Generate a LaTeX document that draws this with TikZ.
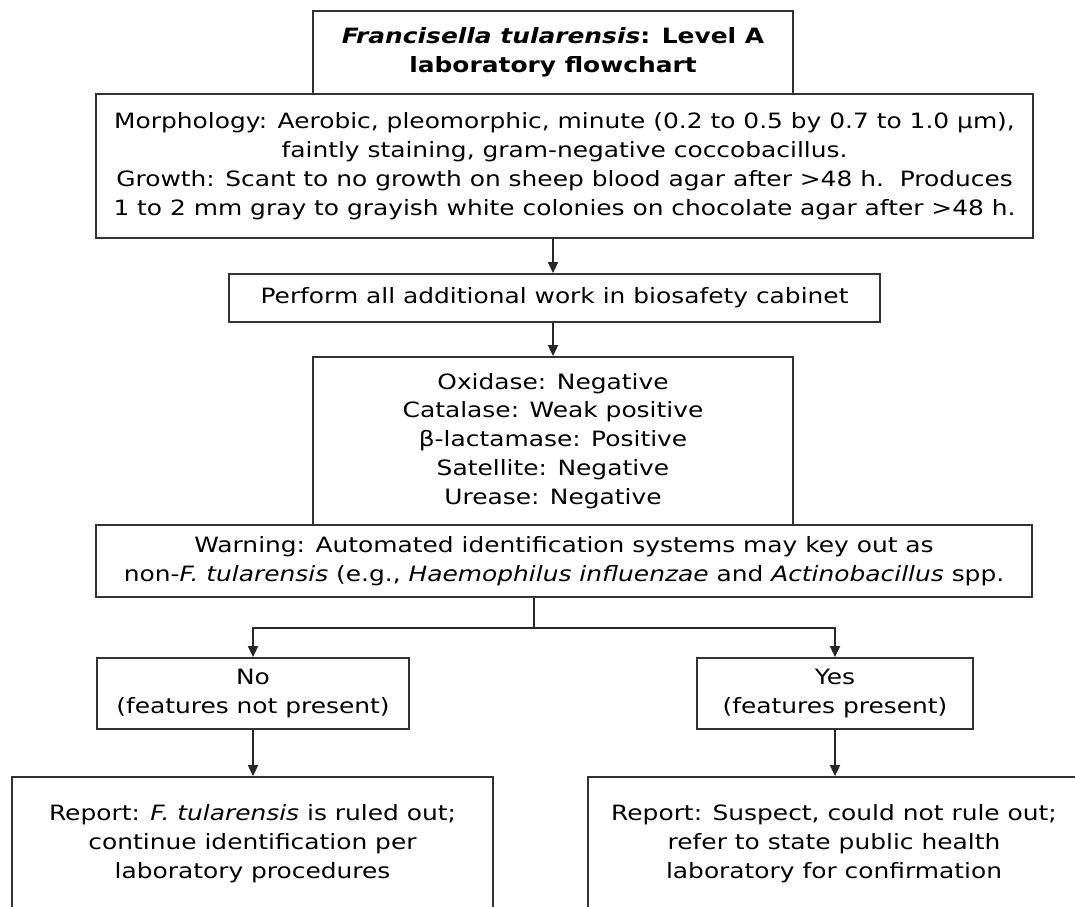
\documentclass[tikz,border=0pt]{standalone}
\usepackage{fontspec}
\setmainfont{DejaVu Sans}[FakeStretch=1.18]
\usetikzlibrary{arrows.meta}

\tikzset{
  box/.style={draw=black!80, line width=1pt, align=center, inner sep=2pt,
    font=\fontsize{12pt}{16.4pt}\selectfont},
  arr/.style={draw=black!85, line width=1pt, -{Triangle[length=0.22cm,width=0.2cm]}}
}

\begin{document}
\begin{tikzpicture}
			%%%%% START %%%%%
			
			\useasboundingbox (0, 0) rectangle (21.5, -18.14);
			\clip (0, 0) rectangle (21.5, -18.14);
			
			\node[box, minimum width=9.6cm, minimum height=1.66cm] (title) at (11.06, -1.05)
				{\textbf{\textit{Francisella tularensis}: Level A}\\ \textbf{laboratory flowchart}};
			
			\node[box, minimum width=18.74cm, minimum height=2.88cm] (morph) at (11.29, -3.32)
				{Morphology: Aerobic, pleomorphic, minute (0.2 to 0.5 by 0.7 to 1.0 µm),\\
				faintly staining, gram-negative coccobacillus.\\
				Growth: Scant to no growth on sheep blood agar after >48 h.\ \ Produces\\
				1 to 2 mm gray to grayish white colonies on chocolate agar after >48 h.};
			
			\node[box, minimum width=13.02cm, minimum height=0.96cm] (perform) at (11.09, -5.96)
				{Perform all additional work in biosafety cabinet};
			
			\node[box, minimum width=9.6cm, minimum height=3.36cm] (tests) at (11.06, -8.82)
				{Oxidase: Negative\\ Catalase: Weak positive\\ β-lactamase: Positive\\
				Satellite: Negative\\ Urease: Negative};
			
			\node[box, minimum width=18.72cm, minimum height=1.44cm] (warning) at (11.28, -11.22)
				{Warning: Automated identification systems may key out as\\
				non-\textit{F. tularensis} (e.g., \textit{Haemophilus influenzae} and \textit{Actinobacillus} spp.};
			
			\node[box, minimum width=6.24cm, minimum height=1.42cm] (no) at (5.06, -13.87)
				{No\\ (features not present)};
			\node[box, minimum width=5.52cm, minimum height=1.42cm] (yes) at (16.70, -13.87)
				{Yes\\ (features present)};
			
			\node[box, minimum width=9.62cm, minimum height=2.66cm] (ruledout) at (5.05, -16.87)
				{Report: \textit{F. tularensis} is ruled out;\\ continue identification per\\ laboratory procedures};
			\node[box, minimum width=9.84cm, minimum height=2.66cm] (refer) at (16.68, -16.87)
				{Report: Suspect, could not rule out;\\ refer to state public health\\ laboratory for confirmation};
			
			\coordinate (split) at (10.68, -12.56);
			
			\draw[arr] (morph.south -| tests.north) -- (perform.north -| tests.north);
			\draw[arr] (perform.south -| tests.north) -- (tests.north);
			\draw[draw=black!85, line width=1pt] (warning.south -| split) -- (split);
			\draw[arr] (split) -| (no.north);
			\draw[arr] (split) -| (yes.north);
			\draw[arr] (no.south) -- (no.south |- ruledout.north);
			\draw[arr] (yes.south) -- (yes.south |- refer.north);
			
			%%%%% END %%%%%
\end{tikzpicture}
\end{document}
